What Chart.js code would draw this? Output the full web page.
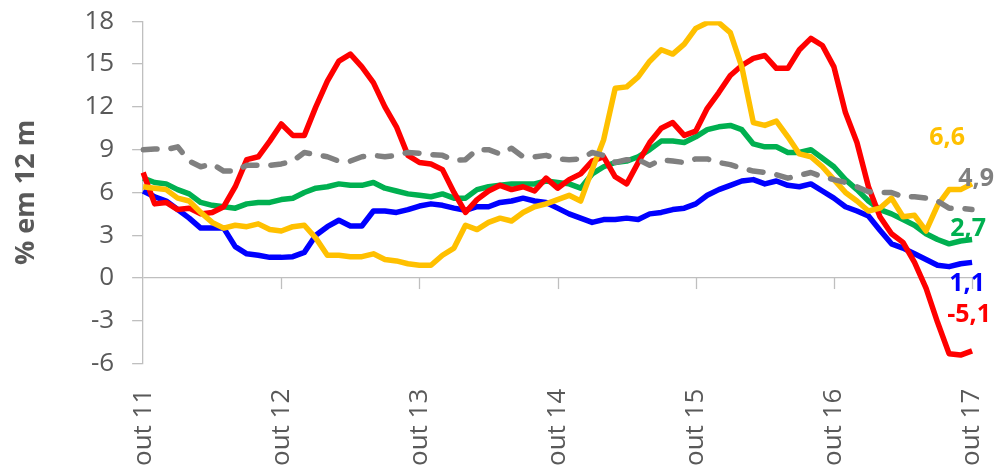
<!DOCTYPE html>
<html>
<head>
<meta charset="utf-8">
<script src="https://cdn.jsdelivr.net/npm/chart.js@4/dist/chart.umd.min.js"></script>
<style>
  html, body { margin: 0; padding: 0; background: #fff; }
  #wrap { width: 1000px; height: 469px; }
</style>
</head>
<body>
<div id="wrap"><canvas id="chart" width="1000" height="469"></canvas></div>
<script>
// categories: monthly, out/2011 .. out/2017
const monthNames = ["out", "nov", "dez", "jan", "fev", "mar", "abr", "mai", "jun", "jul", "ago", "set"];
const startYear = 11;
const categories = [];
for (let i = 0; i < 73; i++) {
  const yr = startYear + Math.floor((i + 9) / 12);
  categories.push(monthNames[i % 12] + " " + yr);
}

const yTicks = [-6, -3, 0, 3, 6, 9, 12, 15, 18];

const redSeries = [
  7.4, 5.2, 5.3, 4.8, 4.9, 4.5, 4.6, 5.0, 6.4, 8.3, 8.5, 9.6,
  10.8, 10.0, 10.0, 12.0, 13.8, 15.2, 15.7, 14.8, 13.7, 12.0, 10.6, 8.6,
  8.1, 8.0, 7.6, 6.0, 4.6, 5.5, 6.1, 6.5, 6.2, 6.4, 6.1, 7.0,
  6.3, 6.9, 7.3, 8.2, 8.5, 7.1, 6.6, 8.1, 9.5, 10.5, 10.9, 10.0,
  10.3, 11.9, 13.0, 14.2, 14.9, 15.4, 15.6, 14.7, 14.7, 16.0, 16.8, 16.3,
  14.8, 11.6, 9.5, 6.4, 4.3, 3.1, 2.5, 1.1, -0.7, -3.1, -5.3, -5.4,
  -5.1
];

const yellowSeries = [
  6.4, 6.3, 6.2, 5.6, 5.4, 4.6, 3.9, 3.5, 3.7, 3.6, 3.8, 3.4,
  3.3, 3.6, 3.7, 2.8, 1.6, 1.6, 1.5, 1.5, 1.7, 1.3, 1.2, 1.0,
  0.9, 0.9, 1.6, 2.1, 3.7, 3.4, 3.9, 4.2, 4.0, 4.6, 5.0, 5.2,
  5.5, 5.8, 5.4, 7.6, 9.7, 13.3, 13.4, 14.1, 15.2, 16.0, 15.7, 16.4,
  17.5, 17.9, 17.9, 17.2, 14.8, 10.9, 10.7, 11.0, 9.9, 8.7, 8.5, 7.8,
  6.9, 6.0, 5.4, 4.7, 4.9, 5.6, 4.3, 4.4, 3.3, 5.1, 6.2, 6.2,
  6.6
];

const greenSeries = [
  7.0, 6.7, 6.6, 6.2, 5.9, 5.3, 5.1, 5.0, 4.9, 5.2, 5.3, 5.3,
  5.5, 5.6, 6.0, 6.3, 6.4, 6.6, 6.5, 6.5, 6.7, 6.3, 6.1, 5.9,
  5.8, 5.7, 5.9, 5.6, 5.6, 6.2, 6.4, 6.5, 6.6, 6.6, 6.6, 6.8,
  6.7, 6.6, 6.3, 7.3, 7.8, 8.1, 8.2, 8.5, 9.0, 9.6, 9.6, 9.5,
  9.9, 10.4, 10.6, 10.7, 10.4, 9.4, 9.2, 9.2, 8.8, 8.8, 9.0, 8.4,
  7.8, 6.9, 6.2, 5.4, 4.8, 4.5, 4.1, 3.7, 3.1, 2.7, 2.4, 2.6,
  2.7
];

const blueSeries = [
  6.1, 5.7, 5.4, 4.8, 4.2, 3.5, 3.5, 3.5, 2.2, 1.7, 1.6, 1.45,
  1.45, 1.5, 1.8, 3.0, 3.6, 4.05, 3.65, 3.65, 4.7, 4.7, 4.6, 4.8,
  5.05, 5.2, 5.1, 4.9, 4.75, 5.0, 5.0, 5.3, 5.4, 5.6, 5.4, 5.3,
  4.9, 4.5, 4.2, 3.9, 4.1, 4.1, 4.2, 4.1, 4.5, 4.6, 4.8, 4.9,
  5.2, 5.8, 6.2, 6.5, 6.8, 6.9, 6.6, 6.8, 6.5, 6.4, 6.6, 6.1,
  5.6, 5.0, 4.7, 4.35, 3.35, 2.4, 2.1, 1.7, 1.3, 0.9, 0.8, 1.0,
  1.1
];

const graySeries = [
  9.0, 9.05, 9.0, 9.2, 8.2, 7.8, 8.0, 7.5, 7.5, 7.9, 7.9, 7.9,
  8.0, 8.2, 8.8, 8.65, 8.5, 8.2, 8.2, 8.5, 8.6, 8.5, 8.6, 8.8,
  8.75, 8.65, 8.6, 8.25, 8.3, 9.0, 9.0, 8.7, 9.1, 8.5, 8.5, 8.6,
  8.35, 8.3, 8.35, 8.8, 8.6, 8.1, 8.3, 8.3, 7.9, 8.3, 8.2, 8.1,
  8.35, 8.35, 8.1, 7.95, 7.7, 7.5, 7.4, 7.25, 7.0, 7.2, 7.4, 7.1,
  6.9, 6.7, 6.4, 6.05, 6.0, 6.0, 5.7, 5.7, 5.6, 5.4, 4.9, 4.9,
  4.8
];

// end-of-line value labels
const endLabels = ["6,6", "4,9", "2,7", "1,1", "-5,1"];

const COL = {
  red: "#ff0000",
  yellow: "#ffc000",
  green: "#00b050",
  blue: "#0000ff",
  gray: "#808080",
  axis: "#bfbfbf",
  text: "#595959"
};

Chart.defaults.font.family = "'Open Sans', 'DejaVu Sans', sans-serif";
Chart.defaults.color = COL.text;

function line(data, color, order, extra) {
  return Object.assign({
    data: data,
    borderColor: color,
    backgroundColor: color,
    borderWidth: 5.5,
    pointRadius: 0,
    tension: 0,
    fill: false,
    borderJoinStyle: "round",
    order: order
  }, extra || {});
}

// short tick marks hanging under the zero line at each "out" label
const zeroTicks = {
  id: "zeroTicks",
  afterDatasetsDraw(chart) {
    const { ctx, scales: { x, y } } = chart;
    const y0 = y.getPixelForValue(0);
    ctx.save();
    ctx.strokeStyle = COL.axis;
    ctx.lineWidth = 1.3;
    categories.forEach((c, i) => {
      if (i === 0 || !c.startsWith("out")) return;
      const px = Math.round(x.getPixelForValue(i)) + 0.5;
      ctx.beginPath();
      ctx.moveTo(px, y0);
      ctx.lineTo(px, y0 + 11);
      ctx.stroke();
    });
    ctx.restore();
  }
};

// value labels at the right end of each line
const lastLabels = {
  id: "lastLabels",
  afterDatasetsDraw(chart) {
    const { ctx, scales: { x, y } } = chart;
    const spots = [
      { txt: endLabels[0], col: COL.yellow, ds: yellowSeries, dx: -25, dy: -46 },
      { txt: endLabels[1], col: COL.gray, ds: graySeries, dx: 4, dy: -31 },
      { txt: endLabels[2], col: COL.green, ds: greenSeries, dx: -4, dy: -11 },
      { txt: endLabels[3], col: COL.blue, ds: blueSeries, dx: -5, dy: 22 },
      { txt: endLabels[4], col: COL.red, ds: redSeries, dx: -3, dy: -36 }
    ];
    const last = categories.length - 1;
    ctx.save();
    ctx.font = "bold 25px 'Open Sans', sans-serif";
    ctx.textAlign = "center";
    ctx.textBaseline = "middle";
    spots.forEach(s => {
      ctx.fillStyle = s.col;
      ctx.fillText(s.txt, x.getPixelForValue(last) + s.dx, y.getPixelForValue(s.ds[last]) + s.dy);
    });
    ctx.restore();
  }
};

new Chart(document.getElementById("chart"), {
  type: "line",
  data: {
    labels: categories,
    datasets: [
      line(graySeries, COL.gray, 0, { borderDash: [14, 14], borderCapStyle: "round" }),
      line(yellowSeries, COL.yellow, 1),
      line(redSeries, COL.red, 2),
      line(greenSeries, COL.green, 3),
      line(blueSeries, COL.blue, 4)
    ]
  },
  options: {
    responsive: false,
    animation: false,
    events: [],
    layout: { padding: { left: 0, right: 0, top: 0, bottom: -14 } },
    plugins: {
      legend: { display: false },
      tooltip: { enabled: false }
    },
    scales: {
      x: {
        type: "category",
        offset: false,
        grid: { display: false },
        border: { display: false },
        ticks: {
          autoSkip: false,
          maxRotation: 90,
          minRotation: 90,
          padding: 17,
          color: COL.text,
          font: { size: 26, lineHeight: 0.42 },
          callback: function (v, i) {
            const c = categories[i];
            return c.startsWith("out") ? c : null;
          }
        }
      },
      y: {
        min: yTicks[0],
        max: yTicks[yTicks.length - 1],
        afterBuildTicks: (axis) => { axis.ticks = yTicks.map(v => ({ value: v })); },
        border: { display: true, color: COL.axis, width: 1.3 },
        grid: {
          color: (c) => (c.tick && c.tick.value === 0 ? COL.axis : "rgba(0,0,0,0)"),
          lineWidth: 1.3,
          tickColor: COL.axis,
          tickLength: 11,
          drawTicks: true
        },
        ticks: {
          padding: 18,
          color: COL.text,
          font: { size: 26, lineHeight: 0.25 }
        },
        title: {
          display: true,
          text: "% em 12 m",
          color: COL.text,
          font: { size: 27, weight: "bold" },
          padding: { top: 10, bottom: 24 }
        }
      }
    }
  },
  plugins: [zeroTicks, lastLabels]
});
</script>
</body>
</html>
